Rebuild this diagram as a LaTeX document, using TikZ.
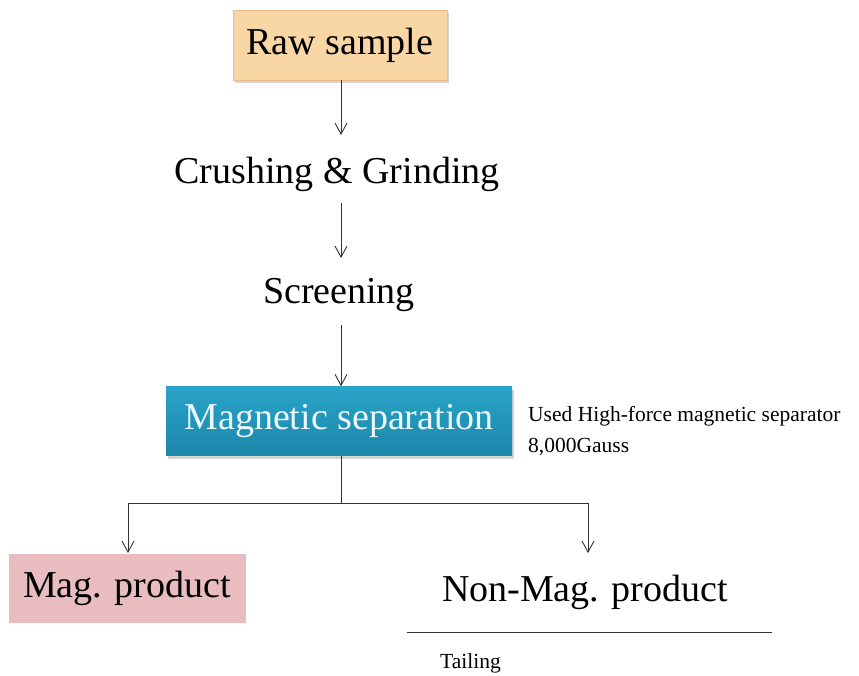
\documentclass[tikz,border=0pt]{standalone}
\usepackage{fontspec}
\setmainfont{Liberation Serif}
\usetikzlibrary{arrows.meta,shadows}
\definecolor{peach}{HTML}{F8D7A4}
\definecolor{peachedge}{HTML}{EDC088}
\definecolor{magblue}{HTML}{29A4C8}
\definecolor{magblue2}{HTML}{1C86A9}
\definecolor{pinkbox}{HTML}{E9BCC0}
\tikzset{
  big/.style={font=\fontsize{38}{40}\selectfont, inner sep=0pt},
  small/.style={font=\fontsize{21.5}{24}\selectfont, inner sep=0pt, anchor=west},
  flow/.style={draw=black!80, line width=0.9pt, -{Straight Barb[length=11pt,width=12pt,line width=0.9pt]}},
  plain/.style={draw=black!80, line width=0.9pt},
  shadowed/.style={drop shadow={shadow xshift=2pt,shadow yshift=-3pt,opacity=0.35}}
}
\begin{document}
\begin{tikzpicture}[x=1pt,y=-1pt]
\useasboundingbox (0,0) rectangle (859,676);
\node[shadowed, draw=peachedge, fill=peach, minimum width=214pt, minimum height=70pt, big] (raw) at (340,45) {Raw sample};
\node[big] (crush) at (337,174) {Crushing \& Grinding};
\node[big] (screen) at (339,295) {Screening};
\node[shadowed, top color=magblue, bottom color=magblue2, draw=none, minimum width=346pt, minimum height=69pt, big, text=white!92!cyan] (mag) at (339,421) {Magnetic separation};
\node[small] (note1) at (528,416) {Used High-force magnetic separator};
\node[small] (note2) at (528,447) {8,000Gauss};
\node[fill=pinkbox, minimum width=237pt, minimum height=69pt, big] (magp) at (127,588) {Mag. product};
\node[big] (nonmag) at (585,592) {Non-Mag. product};
\node[small] (tail) at (440,663) {Tailing};
\coordinate (line1) at (407,632);
\coordinate (line2) at (772,632);
\coordinate (split) at (341,503);
\coordinate (splitL) at (128,503);
\coordinate (splitR) at (588,503);
\coordinate (magtop) at (128,553);
\coordinate (nonmagtop) at (588,553);
\draw[flow] (raw.south -| 341,0) -- (341,135);
\draw[flow] (341,203) -- (341,258);
\draw[flow] (341,325) -- (mag.north -| 341,0);
\draw[plain] (mag.south -| split) -- (split);
\draw[plain] (splitL) -- (splitR);
\draw[flow] (splitL) -- (magtop);
\draw[flow] (splitR) -- (nonmagtop);
\draw[plain] (line1) -- (line2);
\end{tikzpicture}
\end{document}
